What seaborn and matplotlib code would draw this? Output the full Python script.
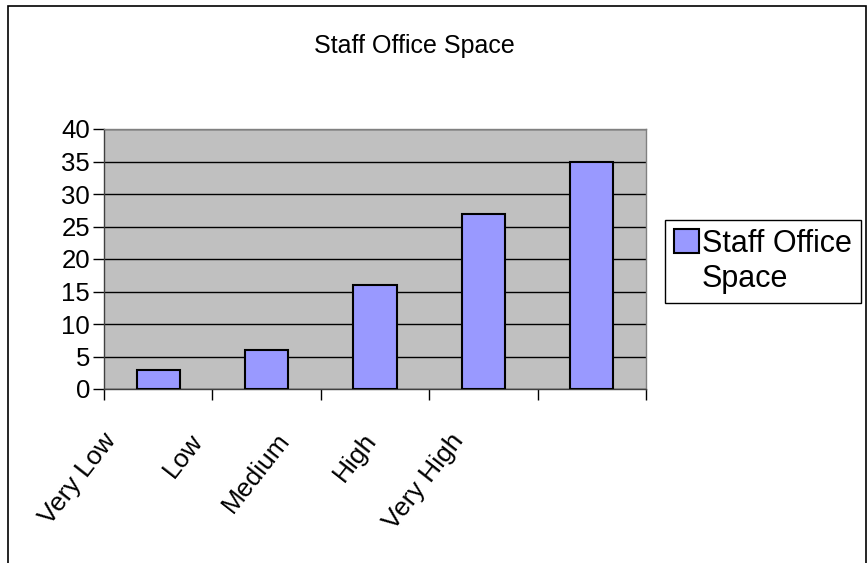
import matplotlib
matplotlib.use("Agg")
import matplotlib.pyplot as plt
import pandas as pd
import seaborn as sns
from matplotlib.patches import Rectangle
from matplotlib.transforms import ScaledTranslation

categories = ["Very Low", "Low", "Medium", "High", "Very High"]
values = [3, 6, 16, 27, 35]
series_name = "Staff Office Space"
y_ticks = [0, 5, 10, 15, 20, 25, 30, 35, 40]

df = pd.DataFrame({"level": categories, "count": values})

sns.set_style("white")
plt.rcParams["font.family"] = ["Liberation Sans", "DejaVu Sans"]
plt.rcParams["text.color"] = "black"
plt.rcParams["xtick.color"] = "black"
plt.rcParams["ytick.color"] = "black"

fig = plt.figure(figsize=(8.67, 5.63), dpi=100)
ax = fig.add_axes([104 / 867, 1 - 389 / 563, 542 / 867, 260 / 563])

sns.barplot(data=df, x="level", y="count", color="#9999FF", width=0.4,
            edgecolor="black", linewidth=1.5, saturation=1, ax=ax,
            label=series_name, zorder=3, legend=False)

ax.set_facecolor("#C0C0C0")
ax.set_xlim(-0.5, len(categories) - 0.5)
ax.set_ylim(0, 40)
ax.set_yticks(y_ticks)
ax.yaxis.grid(True, color="black", linewidth=1)
ax.set_axisbelow(True)
ax.set_xlabel("")
ax.set_ylabel("")

# x ticks sit between categories, labels hang below
ax.set_xticks([i + 0.5 for i in range(-1, len(categories))])
ax.set_xticklabels([])
ax.set_xticks(range(len(categories)), minor=True)
ax.set_xticklabels(categories, minor=True, rotation=52, ha="right", va="center",
                   rotation_mode="anchor")
ax.tick_params(axis="x", which="minor", bottom=True, length=0, pad=34, labelsize=19)
ax.tick_params(axis="x", which="major", bottom=True, length=8, width=1, direction="out")
ax.tick_params(axis="y", left=True, length=8, width=1, direction="out", labelsize=18.5, pad=2)

# Excel packs the rotated labels tighter than the categories
for i, lbl in enumerate(ax.get_xticklabels(minor=True)):
    centre_px = 104 + (i + 0.5) * 542 / len(categories)
    dx = (111 + 87 * i - centre_px) / 100
    lbl.set_transform(lbl.get_transform() + ScaledTranslation(dx, 0, fig.dpi_scale_trans))

for side in ["top", "right"]:
    ax.spines[side].set_color("#808080")
for side in ["left", "bottom"]:
    ax.spines[side].set_color("#404040")
for sp in ax.spines.values():
    sp.set_linewidth(1)

fig.text(414 / 867, 1 - 46 / 563, series_name, ha="center", va="center", fontsize=18)

handles, labels = ax.get_legend_handles_labels()
leg = fig.legend(handles[:1], ["Staff Office\nSpace"], loc="upper left",
                 bbox_to_anchor=(665 / 867, 1 - 220 / 563), fontsize=22,
                 frameon=True, fancybox=False, edgecolor="black",
                 handlelength=0.8, handleheight=0.8, handletextpad=0.1,
                 borderpad=0.3, borderaxespad=0, labelspacing=0.2)
leg.get_frame().set_linewidth(1)
leg.get_frame().set_alpha(1)
# keep the swatch level with the first line, as Excel does
for column in leg._legend_handle_box.get_children():
    for row in column.get_children():
        row.align = "top"

fig.patches.append(Rectangle((8 / 867, -0.01), 1 - 8 / 867 - 1 / 867, 1.0,
                             transform=fig.transFigure, fill=False,
                             edgecolor="black", linewidth=1.2))

fig.savefig("out.png", dpi=100)
